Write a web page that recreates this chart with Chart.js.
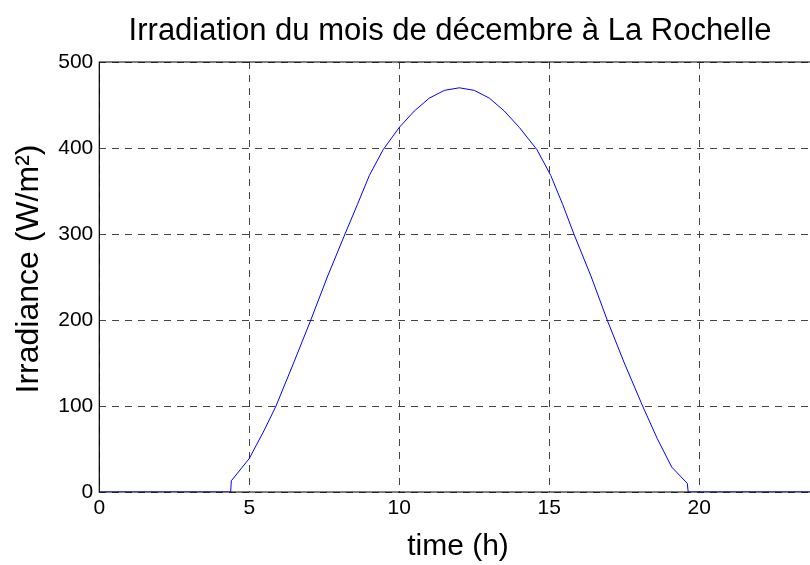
<!DOCTYPE html>
<html>
<head>
<meta charset="utf-8">
<script src="https://cdn.jsdelivr.net/npm/chart.js@4"></script>
<style>
  html, body { margin: 0; padding: 0; background: #fff; overflow: hidden; }
  #wrap { width: 825px; height: 565px; }
</style>
</head>
<body>
<div id="wrap"><canvas id="irrChart" width="825" height="565"></canvas></div>
<script>
// values (hours of the day / W per m2)
const hours = [0, 4.38, 4.40, 5.0, 5.5, 5.89, 6.5, 7.05, 7.6, 8.19, 8.6, 9.0, 9.46, 10, 10.5, 11, 11.5, 12, 12.5, 13, 13.5, 14, 14.59, 15.05, 15.45, 15.82, 16.4, 16.93, 17.5, 18.11, 18.6, 19.08, 19.6, 19.63, 24]
const irradiance = [0, 0, 13, 39, 72, 100, 152, 200, 250, 300, 334, 368, 398, 424, 443, 458, 467, 470, 467, 458, 443, 424, 398, 368, 334, 300, 250, 200, 150, 100, 62, 29, 10, 0, 0]
const xTicks = [0, 5, 10, 15, 20]
const yTicks = [0, 100, 200, 300, 400, 500]

const chartTitle = 'Irradiation du mois de décembre à La Rochelle'
const xTitle = 'time (h)'
const yTitle = 'Irradiance (W/m²)'

const font = 'Liberation Sans, Arial, sans-serif'

let points = []
for (let i = 0; i < hours.length; i++) {
    points.push({x: hours[i], y: irradiance[i]})
}

// axes box under the curve, titles on top, placed like the matlab figure
const framePlugin = {
    id: 'frame',
    beforeDatasetsDraw(chart) {
        const ctx = chart.ctx
        const a = chart.chartArea
        ctx.save()
        ctx.strokeStyle = '#000'
        ctx.lineWidth = 1.2
        ctx.beginPath()
        ctx.moveTo(a.left, a.top)
        ctx.lineTo(a.right, a.top)
        ctx.lineTo(a.right, a.bottom)
        ctx.lineTo(a.left, a.bottom)
        ctx.closePath()
        ctx.stroke()
        ctx.restore()
    },
    afterDraw(chart) {
        const ctx = chart.ctx
        ctx.save()
        ctx.fillStyle = '#000'
        ctx.textAlign = 'center'
        ctx.textBaseline = 'middle'
        ctx.font = '31px ' + font
        ctx.fillText(chartTitle, 450, 31)
        ctx.font = '30px ' + font
        ctx.fillText(xTitle, 458, 547)
        ctx.translate(29, 269)
        ctx.rotate(-Math.PI / 2)
        ctx.font = '32px ' + font
        ctx.fillText(yTitle, 0, 0)
        ctx.restore()
    }
}

new Chart(document.getElementById('irrChart'), {
    type: 'scatter',
    data: {
        datasets: [{
            label: 'Irradiance',
            data: points,
            showLine: true,
            borderColor: '#0000ff',
            borderWidth: 1,
            pointRadius: 0,
            tension: 0
        }]
    },
    options: {
        responsive: false,
        animation: false,
        layout: { padding: { top: 62, right: 5.7, left: 0, bottom: 0 } },
        plugins: {
            legend: { display: false },
            tooltip: { enabled: false },
            title: { display: false }
        },
        scales: {
            x: {
                type: 'linear',
                min: 0,
                max: 24,
                afterBuildTicks: (scale) => { scale.ticks = xTicks.map(v => ({value: v})) },
                afterFit: (scale) => { scale.height = 73 },
                ticks: {
                    color: '#000',
                    font: { family: font, size: 21 },
                    padding: 4,
                    maxRotation: 0
                },
                grid: {
                    color: '#444',
                    lineWidth: 1,
                    drawTicks: false
                },
                border: { display: false, dash: [7, 6] }
            },
            y: {
                min: 0,
                max: 500,
                afterBuildTicks: (scale) => { scale.ticks = yTicks.map(v => ({value: v})) },
                afterFit: (scale) => { scale.width = 99.3 },
                ticks: {
                    color: '#000',
                    font: { family: font, size: 21 },
                    padding: 6
                },
                grid: {
                    color: '#444',
                    lineWidth: 1,
                    drawTicks: false
                },
                border: { display: false, dash: [7, 6] }
            }
        }
    },
    plugins: [framePlugin]
})
</script>
</body>
</html>
